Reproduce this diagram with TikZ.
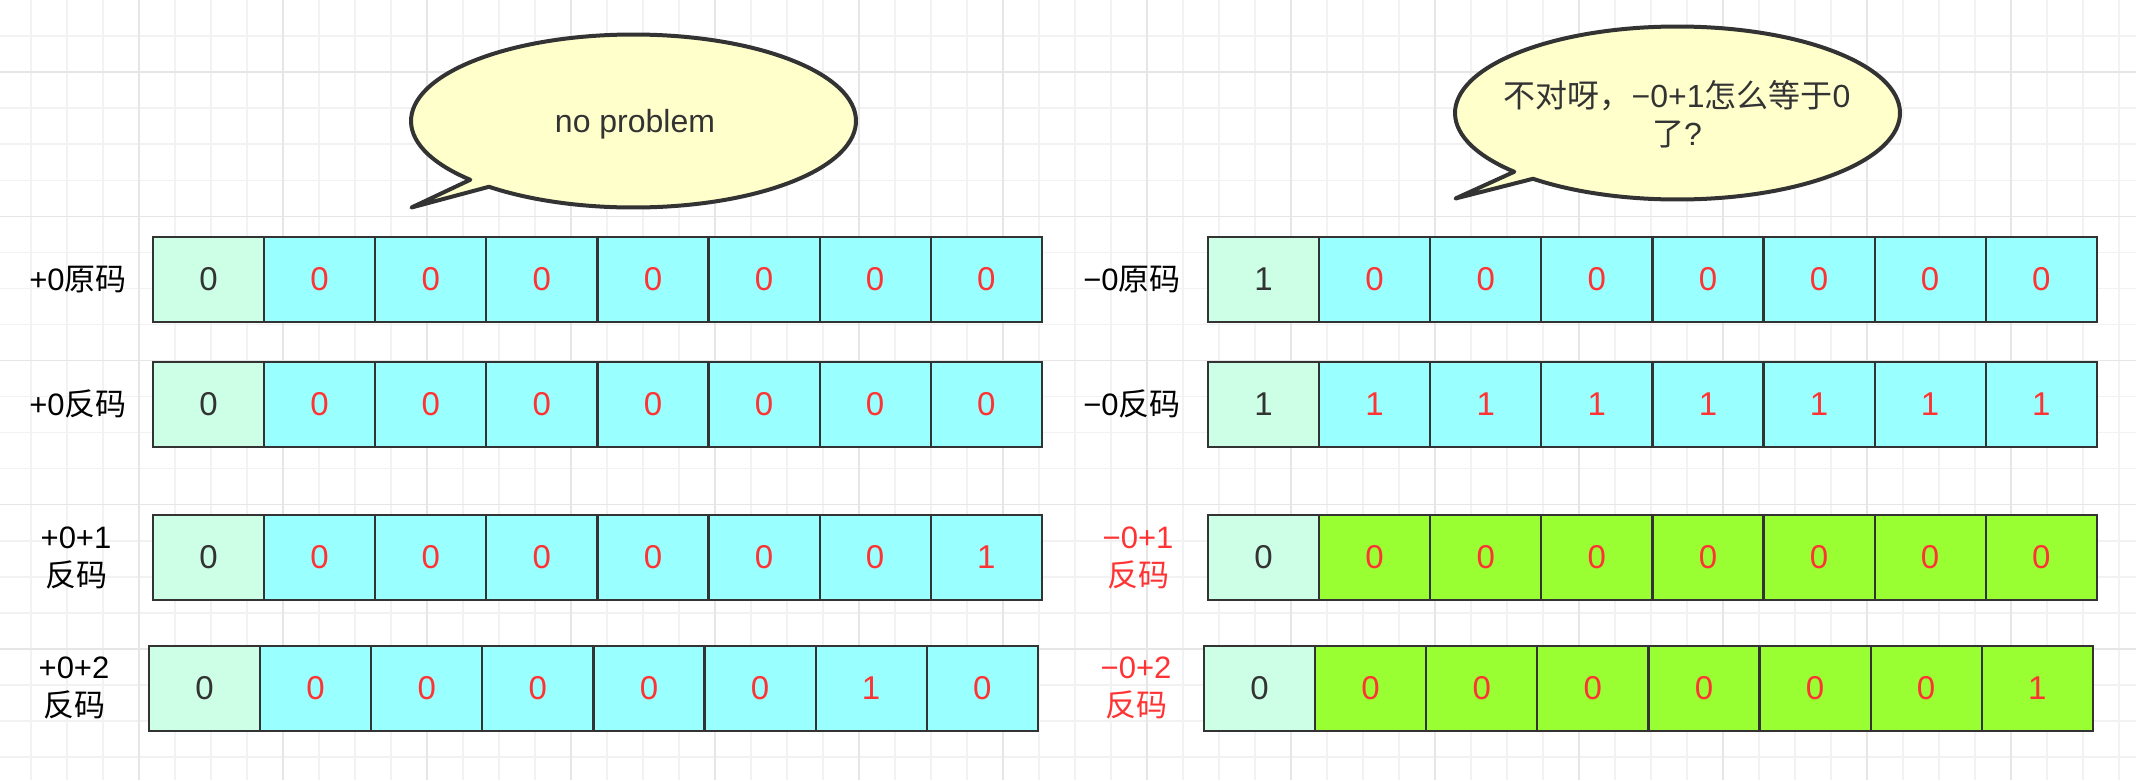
\documentclass[tikz,border=0pt]{standalone}
\usepackage{fontspec}
\setmainfont{Liberation Sans}
\newfontfamily\cjk{Noto Sans CJK SC}
\usetikzlibrary{calc}
\definecolor{signfill}{HTML}{CCFFE6}
\definecolor{cyanfill}{HTML}{99FFFF}
\definecolor{greenfill}{HTML}{99FF33}
\definecolor{redtxt}{HTML}{FF3333}
\definecolor{edgec}{HTML}{333333}
\definecolor{darktxt}{HTML}{333333}
\definecolor{bubblefill}{HTML}{FFFFCC}
\definecolor{gridminor}{HTML}{F2F2F2}
\definecolor{gridmajor}{HTML}{E6E6E6}
\newcommand\celfont{\fontsize{33}{38}\selectfont}
\newcommand\lblfont{\fontsize{31}{38}\selectfont}
\newcommand\bubfont{\fontsize{32}{38}\selectfont}
\newcommand\bitrow[6]{%
  \node[signcell] (#1-0) at ({#2+55.55},{#3+42.5}) {#4};
  \foreach \b [count=\i] in {#6} {
    \node[bitcell, fill=#5] (#1-\i) at ({#2+55.55+111.1*\i},{#3+42.5}) {\b};
  }%
}
\begin{document}
\begin{tikzpicture}[x=1pt,y=-1pt,
  gridminorline/.style={draw=gridminor, line width=1.5pt},
  gridmajorline/.style={draw=gridmajor, line width=1.5pt},
  bitbase/.style={draw=edgec, line width=2.2pt, minimum width=111.1pt, minimum height=85pt, inner sep=0pt, outer sep=0pt, font=\celfont},
  signcell/.style={bitbase, fill=signfill, text=darktxt},
  bitcell/.style={bitbase, text=redtxt},
  lbl/.style={font=\lblfont, text=black, align=center, inner sep=0pt},
  redlbl/.style={lbl, text=redtxt},
  bubble/.style={draw=edgec, fill=bubblefill, line width=4pt, line join=round},
  btxt/.style={font=\bubfont, text=darktxt, align=center, inner sep=0pt}]
\useasboundingbox (0,0) rectangle (2136,780);
\fill[white] (0,0) rectangle (2136,780);
% grid
\foreach \k in {1,...,59} \draw[gridminorline] ({-5+36*\k},0) -- ({-5+36*\k},780);
\foreach \k in {1,...,21} \draw[gridminorline] (0,{36.05*\k}) -- (2136,{36.05*\k});
\foreach \k in {4,8,...,56} \draw[gridmajorline] ({-5+36*\k},0) -- ({-5+36*\k},780);
\foreach \k in {2,6,...,18} \draw[gridmajorline] (0,{36.05*\k}) -- (2136,{36.05*\k});
% speech bubbles
\coordinate (bcL) at (633.5,121);
\coordinate (tipL) at (411.5,207.5);
\draw[bubble] ($(bcL)+(137.2:222.5 and 86.5)$) arc[start angle=137.2, end angle=490.5, x radius=222.5, y radius=86.5] -- (tipL) -- cycle;
\node[btxt] (txtL) at (635,124) {no problem};
\coordinate (bcR) at (1677.5,113);
\coordinate (tipR) at (1455.5,198.5);
\draw[bubble] ($(bcR)+(137.2:222.5 and 86.5)$) arc[start angle=137.2, end angle=490.5, x radius=222.5, y radius=86.5] -- (tipR) -- cycle;
\node[btxt] (txtR) at (1677,114) {{\cjk 不对呀，}−0+1{\cjk 怎么等于}0\\{\cjk 了}?};
% rows left
\bitrow{L1}{153}{237}{0}{cyanfill}{0,0,0,0,0,0,0}
\bitrow{L2}{153}{362}{0}{cyanfill}{0,0,0,0,0,0,0}
\bitrow{L3}{153}{515}{0}{cyanfill}{0,0,0,0,0,0,1}
\bitrow{L4}{149}{646}{0}{cyanfill}{0,0,0,0,0,1,0}
% rows right
\bitrow{R1}{1208}{237}{1}{cyanfill}{0,0,0,0,0,0,0}
\bitrow{R2}{1208}{362}{1}{cyanfill}{1,1,1,1,1,1,1}
\bitrow{R3}{1208}{515}{0}{greenfill}{0,0,0,0,0,0,0}
\bitrow{R4}{1204}{646}{0}{greenfill}{0,0,0,0,0,0,1}
% labels
\node[lbl] (labL1) at (78,280) {+0{\cjk 原码}};
\node[lbl] (labL2) at (78,404) {+0{\cjk 反码}};
\node[lbl] (labL3) at (76,558) {+0+1\\{\cjk 反码}};
\node[lbl] (labL4) at (74,688) {+0+2\\{\cjk 反码}};
\node[lbl] (labR1) at (1132,280) {−0{\cjk 原码}};
\node[lbl] (labR2) at (1132,404) {−0{\cjk 反码}};
\node[redlbl] (labR3) at (1138,558) {−0+1\\{\cjk 反码}};
\node[redlbl] (labR4) at (1136,688) {−0+2\\{\cjk 反码}};
\end{tikzpicture}
\end{document}
